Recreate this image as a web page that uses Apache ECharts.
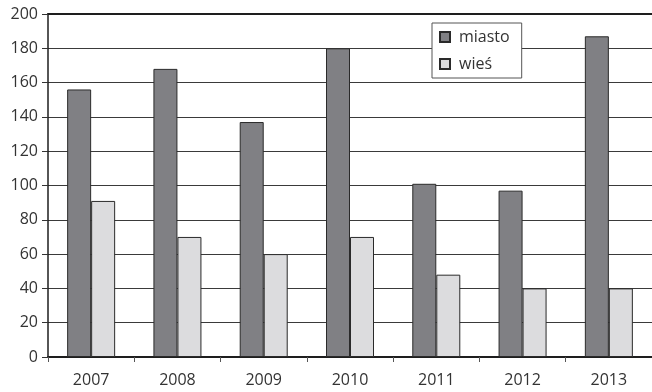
<!DOCTYPE html>
<html>
<head>
<meta charset="utf-8">
<style>
  html, body { margin: 0; padding: 0; background: #fff; }
  #chart { width: 652px; height: 392px; }
</style>
<script src="https://cdn.jsdelivr.net/npm/echarts@6/dist/echarts.min.js"></script>
</head>
<body>
<div id="chart"></div>
<script>
// Years on the category axis
const years = ['2007', '2008', '2009', '2010', '2011', '2012', '2013'];
// Values for towns and rural areas
const miasto = [156, 168, 137, 180, 101, 97, 187];
const wies = [91, 70, 60, 70, 48, 40, 40];
// Value axis range
const yMin = 0;
const yMax = 200;
const yStep = 20;

const FONT = '"Open Sans", "Noto Sans", sans-serif';
const TEXT = '#333333';

const chart = echarts.init(document.getElementById('chart'), null, { renderer: 'canvas' });

chart.setOption({
  animation: false,
  backgroundColor: '#ffffff',
  textStyle: { fontFamily: FONT, color: TEXT },
  grid: { left: 48, right: -7, top: 14, bottom: 35, containLabel: false },
  legend: {
    orient: 'vertical',
    left: 432,
    top: 23,
    padding: [4, 12, 4, 7],
    itemGap: 7,
    itemWidth: 10,
    itemHeight: 10,
    icon: 'rect',
    backgroundColor: '#ffffff',
    borderColor: '#555555',
    borderWidth: 1,
    borderRadius: 0,
    textStyle: { fontFamily: FONT, fontSize: 16, color: TEXT, lineHeight: 20, padding: [0, 0, 0, 4] },
    data: ['miasto', 'wieś']
  },
  xAxis: [
    {
      type: 'category',
      data: years,
      boundaryGap: true,
      axisLine: { show: true, lineStyle: { color: '#1e1e1e', width: 2 } },
      axisTick: { show: true, length: 5, lineStyle: { color: '#555', width: 1 } },
      axisLabel: { fontFamily: FONT, fontSize: 16, color: TEXT, margin: 15 },
      splitLine: { show: false }
    },
    {
      type: 'category',
      position: 'top',
      data: years,
      axisLine: { show: true, lineStyle: { color: '#1e1e1e', width: 2 } },
      axisTick: { show: false },
      axisLabel: { show: false },
      splitLine: { show: false }
    }
  ],
  yAxis: {
    type: 'value',
    min: yMin,
    max: yMax,
    interval: yStep,
    axisLine: { show: true, lineStyle: { color: '#1e1e1e', width: 1.5 } },
    axisTick: { show: true, length: 6, lineStyle: { color: '#333', width: 1 } },
    axisLabel: { fontFamily: FONT, fontSize: 16, color: TEXT, margin: 10 },
    splitLine: { show: true, lineStyle: { color: '#3a3a3a', width: 1 } }
  },
  series: [
    {
      name: 'miasto',
      type: 'bar',
      data: miasto,
      barWidth: 24,
      barGap: '0%',
      itemStyle: { color: '#808084', borderColor: '#2a2a2a', borderWidth: 1 }
    },
    {
      name: 'wieś',
      type: 'bar',
      data: wies,
      barWidth: 24,
      barGap: '0%',
      itemStyle: { color: '#dcdcde', borderColor: '#2a2a2a', borderWidth: 1 }
    }
  ]
});
</script>
</body>
</html>
